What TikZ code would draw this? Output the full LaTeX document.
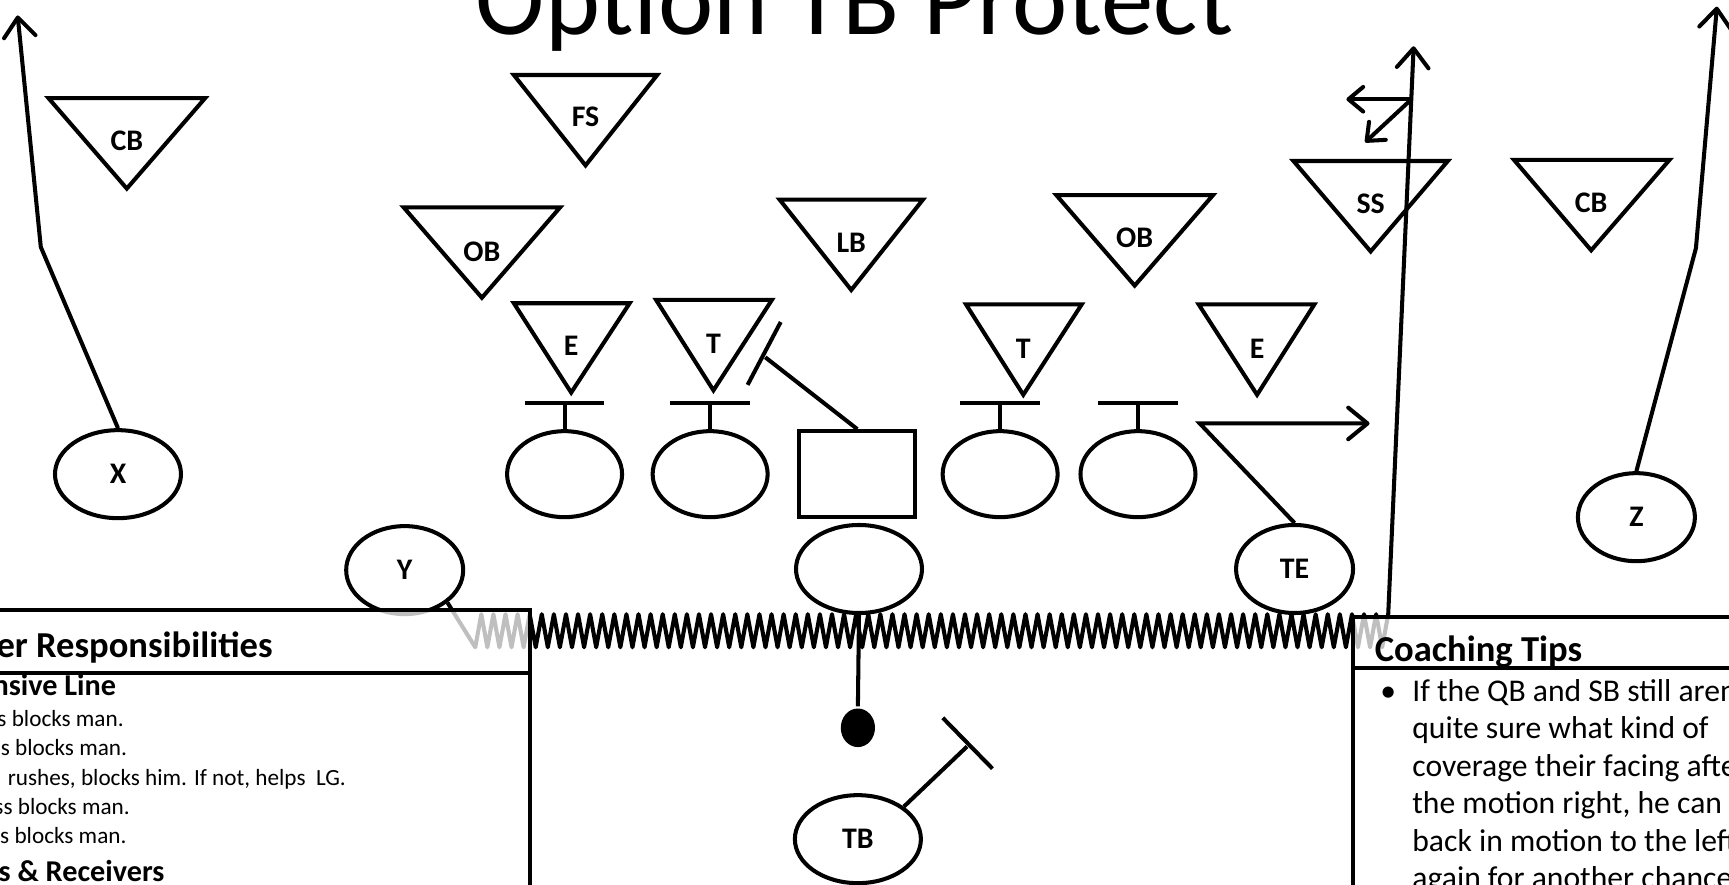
\documentclass[tikz,border=0pt]{standalone}
\usepackage{fontspec}
\setmainfont{Carlito}
\usetikzlibrary{arrows.meta,positioning,shapes.geometric}

\begin{document}
\begin{tikzpicture}[x=0.11027mm,y=-0.11027mm,line width=1.15pt,
    player/.style={ellipse,draw,inner sep=0pt,minimum width=11.7mm,minimum height=8.8mm,
      font=\bfseries\fontsize{8.5}{10}\selectfont},
    lineman/.style={player,minimum width=11.5mm,minimum height=8.6mm},
    wideplayer/.style={player,minimum width=12.6mm},
    dlabel/.style={font=\bfseries\fontsize{8.5}{10}\selectfont},
    route/.style={-{Straight Barb[length=5.5pt,width=9pt,round]}},
    shortroute/.style={-{Straight Barb[length=4.2pt,width=7pt,round]}},
    infobox/.style={draw,fill=white,fill opacity=0.75},
    boxtitle/.style={font=\bfseries\fontsize{10.4}{12}\selectfont,inner sep=0pt},
    boxhead/.style={font=\bfseries\fontsize{8.6}{10}\selectfont,inner sep=0pt},
    boxtext/.style={font=\fontsize{6.6}{8}\selectfont,inner sep=0pt},
    tiptext/.style={font=\fontsize{9}{11}\selectfont,inner sep=0pt}]
    \useasboundingbox (0,0) rectangle (1568,802);
    \node[font=\fontsize{29.8}{36}\selectfont,anchor=base,inner sep=0pt] (title) at (775,31)
      {Option TB Protect};
    % defense (triangles)
    \draw (44,89) -- (186,89) -- (115,171) -- cycle;
    \node[dlabel] (cbL) at (115,128) {CB};
    \draw (466,68) -- (596,68) -- (531,150) -- cycle;
    \node[dlabel] (fs) at (531,106) {FS};
    \draw (366,188) -- (508,188) -- (437,270) -- cycle;
    \node[dlabel] (obL) at (437,228) {OB};
    \draw (707,181) -- (837,181) -- (772,263) -- cycle;
    \node[dlabel] (lb) at (772,220) {LB};
    \draw (958,177) -- (1100,177) -- (1029,259) -- cycle;
    \node[dlabel] (obR) at (1029,216) {OB};
    \draw (1173,146) -- (1313,146) -- (1243,228) -- cycle;
    \node[dlabel] (ss) at (1243,185) {SS};
    \draw (1373,145) -- (1514,145) -- (1443,227) -- cycle;
    \node[dlabel] (cbR) at (1443,184) {CB};
    \draw (466,275) -- (571,275) -- (518,356) -- cycle;
    \node[dlabel] (eL) at (518,314) {E};
    \draw (595,272) -- (700,272) -- (647,354) -- cycle;
    \node[dlabel] (tL) at (647,312) {T};
    \draw (876,276) -- (981,276) -- (928,358) -- cycle;
    \node[dlabel] (tR) at (928,316) {T};
    \draw (1087,276) -- (1192,276) -- (1140,358) -- cycle;
    \node[dlabel] (eR) at (1140,316) {E};
    % offense
    \node[wideplayer] (X) at (107,430) {X};
    \node[lineman] (LT) at (512,430) {};
    \node[lineman] (LG) at (644,430) {};
    \node[draw,inner sep=0pt,minimum width=11.58mm,minimum height=8.6mm] (C) at (777.5,430) {};
    \node[lineman] (RG) at (907,430) {};
    \node[lineman] (RT) at (1032,430) {};
    \node[wideplayer] (QB) at (779,516) {};
    \node[player] (Y) at (367,517) {Y};
    \node[player] (TE) at (1174,516) {TE};
    \node[player] (Z) at (1484,469) {Z};
    \node[wideplayer] (TB) at (778,761) {TB};
    \node[ellipse,fill=black,inner sep=0pt,minimum width=3.42mm,minimum height=3.86mm] (ball) at (778,660) {};
    % blocks
    \draw (LT.north) -- ++(0,-24) ++(-36,0) -- ++(72,0);
    \draw (LG.north) -- ++(0,-24) ++(-36,0) -- ++(72,0);
    \draw (RG.north) -- ++(0,-24) ++(-36,0) -- ++(72,0);
    \draw (RT.north) -- ++(0,-24) ++(-36,0) -- ++(72,0);
    \coordinate (cBlk) at (694,324);
    \draw (C.north) -- (cBlk);
    \draw (678,349) -- (708,292);
    \coordinate (tbBlk) at (877,677);
    \draw (TB.north east) -- (tbBlk);
    \draw (855,651) -- (900,697);
    \draw (QB.south) -- (ball.north);
    % routes
    \coordinate (xBend) at (37,224);
    \coordinate (xEnd) at (16,14);
    \draw[route] (X.north) -- (xBend) -- (xEnd);
    \coordinate (zBend) at (1538,225);
    \coordinate (zEnd) at (1557,6);
    \draw[route] (Z.north) -- (zBend) -- (zEnd);
    \coordinate (teBend) at (1088,384);
    \coordinate (teEnd) at (1242,384);
    \draw[route] (TE.north) -- (teBend) -- (teEnd);
    % Y motion and vertical
    \coordinate (ssTop) at (1282,42);
    \draw[route,line join=round] (Y.south east) -- (431,587)
      \foreach \i in {1,...,151} { -- ({431+\i*5.483},{557+30*mod(\i+1,2)}) }
      -- (ssTop);
    \coordinate (ssBr) at (1280,90);
    \coordinate (ssLeft) at (1221,90);
    \coordinate (ssDiag) at (1238,129);
    \draw[shortroute] (ssBr) -- (ssLeft);
    \draw[shortroute] (ssBr) -- (ssDiag);
    % boxes
    \draw[infobox] (-10,553) rectangle (480.5,815);
    \draw (-10,610) -- (480.5,610);
    \draw[infobox] (1227,559.5) rectangle (1580,815);
    \draw (1227,606) -- (1580,606);
    \node[boxtitle,anchor=base east] (respT) at (249,596) {er Responsibilities};
    \node[boxhead,anchor=base east] (olHead) at (107,631) {nsive Line};
    \node[boxtext,anchor=base east] (ol1) at (114,659) {s blocks man.};
    \node[boxtext,anchor=base east] (ol2) at (117,685) {s blocks man.};
    \node[boxtext,anchor=base east] (ol3) at (315.5,712) {rushes, blocks him. If not, helps~ LG.};
    \node[boxtext,anchor=base east] (ol4) at (119.5,739) {ss blocks man.};
    \node[boxtext,anchor=base east] (ol5) at (116.5,765) {s blocks man.};
    \node[boxhead,anchor=base east] (recHead) at (151,799) {s \& Receivers};
    \node[boxtitle,anchor=base west] (tipsT) at (1245,600) {Coaching Tips};
    \node[tiptext,anchor=base west] (tipB) at (1250,636) {•};
    \node[tiptext,anchor=base west] (tip1) at (1279,636) {If the QB and SB still aren't};
    \node[tiptext,anchor=base west] (tip2) at (1279,670) {quite sure what kind of};
    \node[tiptext,anchor=base west] (tip3) at (1279,704) {coverage their facing after};
    \node[tiptext,anchor=base west] (tip4) at (1279,738) {the motion right, he can};
    \node[tiptext,anchor=base west] (tip5) at (1279,772) {back in motion to the left};
    \node[tiptext,anchor=base west] (tip6) at (1279,806) {again for another chance};
  \end{tikzpicture}
\end{document}
